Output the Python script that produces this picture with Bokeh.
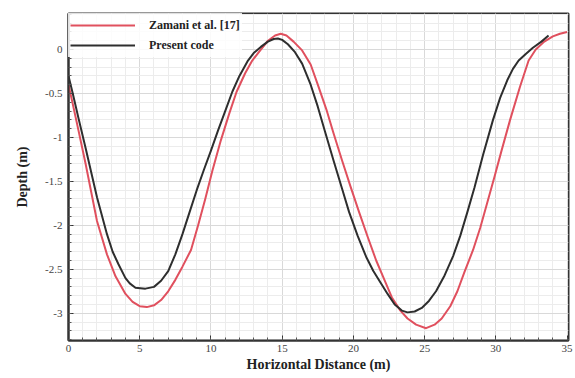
from bokeh.plotting import figure
from bokeh.models import FixedTicker, Range1d, Legend, LegendItem
from bokeh.embed import file_html
from bokeh.resources import INLINE

# Bed profile from Zamani et al. [17]
zamani_x = [0, 0.3, 0.7, 1.2, 2, 2.7, 3.3, 4, 4.5, 5, 5.5, 6, 6.5, 7, 7.5, 8,
            8.6, 9.1, 9.6, 10.1, 10.7, 11.3, 11.8, 12.4, 12.9, 13.5, 14, 14.5,
            14.9, 15.3, 15.8, 16.4, 17, 17.5, 18.1, 18.6, 19.2, 19.8, 20.4, 21,
            21.6, 22.2, 22.7, 23.3, 23.8, 24.4, 25.1, 25.7, 26.2, 26.8, 27.3,
            27.8, 28.4, 28.9, 29.4, 29.9, 30.4, 31, 31.7, 32.3, 32.8, 33.4, 34,
            34.5, 35]
zamani_y = [-0.4, -0.62, -0.92, -1.3, -1.95, -2.33, -2.58, -2.78, -2.87, -2.92,
            -2.93, -2.91, -2.85, -2.75, -2.62, -2.47, -2.28, -2.0, -1.7, -1.38,
            -1.03, -0.72, -0.48, -0.27, -0.125, 0.0, 0.1, 0.16, 0.18, 0.16, 0.09,
            -0.01, -0.17, -0.4, -0.68, -0.95, -1.26, -1.56, -1.85, -2.13, -2.4,
            -2.63, -2.82, -2.97, -3.06, -3.13, -3.17, -3.13, -3.06, -2.92, -2.75,
            -2.53, -2.28, -2.03, -1.74, -1.45, -1.15, -0.8, -0.42, -0.125, 0.0,
            0.09, 0.15, 0.18, 0.2]

# Bed profile from the present code
present_x = [0, 0.3, 0.7, 1.2, 2, 2.7, 3.1, 3.5, 4, 4.3, 4.7, 5.4, 6, 6.5, 7,
             7.5, 8, 8.5, 9, 9.5, 10, 10.5, 11, 11.5, 12, 12.6, 13, 13.5, 14,
             14.4, 14.7, 15, 15.4, 15.9, 16.4, 17, 17.5, 18, 18.6, 19.2, 19.7,
             20.3, 20.9, 21.4, 21.9, 22.4, 22.9, 23.4, 23.8, 24.3, 24.8, 25.3,
             25.8, 26.4, 27, 27.5, 28, 28.5, 29.1, 29.8, 30.3, 30.8, 31.2, 31.6,
             32.1, 32.6, 33.2, 33.7]
present_y = [-0.3, -0.5, -0.78, -1.12, -1.68, -2.1, -2.3, -2.44, -2.6, -2.66,
             -2.71, -2.72, -2.7, -2.63, -2.52, -2.33, -2.1, -1.85, -1.6, -1.37,
             -1.15, -0.92, -0.7, -0.48, -0.3, -0.125, -0.04, 0.03, 0.09, 0.12,
             0.125, 0.11, 0.06, -0.03, -0.16, -0.4, -0.65, -0.93, -1.26, -1.58,
             -1.85, -2.12, -2.36, -2.52, -2.65, -2.78, -2.9, -2.97, -2.99, -2.98,
             -2.94, -2.86, -2.75, -2.57, -2.35, -2.12, -1.85, -1.57, -1.2, -0.8,
             -0.55, -0.35, -0.22, -0.125, -0.05, 0.02, 0.09, 0.16]

x_ticks = [0, 5, 10, 15, 20, 25, 30, 35]
y_ticks = [0, -0.5, -1, -1.5, -2, -2.5, -3]
y_tick_labels = ["0", "-0.5", "-1", "-1.5", "-2", "-2.5", "-3"]

serif = "Liberation Serif"

p = figure(width=575, height=378, output_backend="svg", toolbar_location=None,
           x_range=Range1d(0, 35.1), y_range=Range1d(-3.31, 0.41),
           min_border_left=68, min_border_right=7, min_border_top=13,
           min_border_bottom=38)

p.background_fill_color = "white"
p.border_fill_color = "white"
p.outline_line_color = "#333333"
p.outline_line_width = 2

# faint grid on major and minor ticks
p.xgrid.grid_line_color = "#d9d9d9"
p.ygrid.grid_line_color = "#d9d9d9"
p.xgrid.grid_line_width = 1
p.ygrid.grid_line_width = 1
p.xgrid.minor_grid_line_color = "#ececec"
p.ygrid.minor_grid_line_color = "#ececec"

p.xaxis.ticker = FixedTicker(ticks=x_ticks,
                             minor_ticks=[i for i in range(0, 36)])
p.yaxis.ticker = FixedTicker(ticks=y_ticks,
                             minor_ticks=[round(-3.3 + 0.1 * i, 2) for i in range(38)])
p.yaxis.major_label_overrides = {t: s for t, s in zip(y_ticks, y_tick_labels)}

for ax in (p.xaxis[0], p.yaxis[0]):
    ax.axis_line_color = "#333333"
    ax.axis_line_width = 2
    ax.major_tick_in = 5
    ax.major_tick_out = 0
    ax.minor_tick_in = 3
    ax.minor_tick_out = 0
    ax.major_tick_line_color = "#333333"
    ax.minor_tick_line_color = "#555555"
    ax.major_label_text_font = serif
    ax.major_label_text_font_size = "11px"
    ax.major_label_text_color = "#444444"
    ax.axis_label_text_font = serif
    ax.axis_label_text_font_style = "bold"
    ax.axis_label_text_font_size = "14px"
    ax.axis_label_text_color = "#222222"

p.xaxis.axis_label = "Horizontal Distance (m)"
p.yaxis.axis_label = "Depth (m)"
p.xaxis.major_label_standoff = 4
p.xaxis.axis_label_standoff = 2
p.yaxis.major_label_standoff = 6
p.yaxis.axis_label_standoff = 12

r_zam = p.line(zamani_x, zamani_y, line_color="#e0505e", line_width=2,
               line_join="round")
r_pre = p.line(present_x, present_y, line_color="#2e2e2e", line_width=2,
               line_join="round")

legend = Legend(items=[LegendItem(label="Zamani et al. [17]", renderers=[r_zam]),
                       LegendItem(label="Present code", renderers=[r_pre])],
                location="top_left")
legend.margin = 0
legend.padding = 2
legend.spacing = 0
legend.glyph_width = 65
legend.glyph_height = 20
legend.label_standoff = 14
legend.label_height = 20
legend.label_text_font = serif
legend.label_text_font_style = "bold"
legend.label_text_font_size = "12px"
legend.label_text_color = "#222222"
legend.border_line_alpha = 0
legend.background_fill_color = "white"
legend.background_fill_alpha = 0.85
p.add_layout(legend)

open("out.html", "w").write(file_html(p, INLINE))
